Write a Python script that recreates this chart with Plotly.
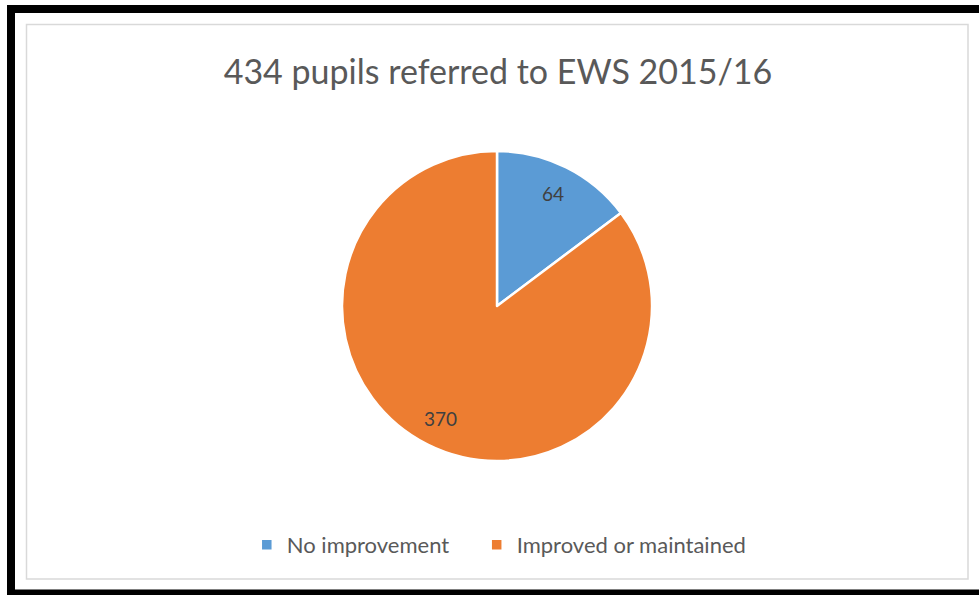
import numpy as np
import plotly.graph_objects as go

title = "434 pupils referred to EWS 2015/16"
categories = ["No improvement", "Improved or maintained"]
values = [64, 370]
colors = ["#5B9BD5", "#ED7D31"]

W, H = 979, 595
cx, cy, r = 497, 306, 155

# pad legend names with no-break spaces to widen the gap between entries
legend_names = [c + "\u00a0" * 4 if i < len(categories) - 1 else c
                for i, c in enumerate(categories)]

fig = go.Figure()
fig.add_trace(go.Pie(
    labels=legend_names,
    values=values,
    sort=False,
    direction="clockwise",
    rotation=0,
    marker=dict(colors=colors, line=dict(color="white", width=2.5)),
    textinfo="none",
    hoverinfo="label+value",
    domain=dict(x=[(cx - r) / W, (cx + r) / W], y=[(H - cy - r) / H, (H - cy + r) / H]),
))

# value labels at ~0.8 radius along each slice's mid-angle
total = sum(values)
start = 0.0
for v in values:
    mid = (start + v / 2) / total * 2 * np.pi
    start += v
    x = cx + 0.81 * r * np.sin(mid)
    y = cy - 0.81 * r * np.cos(mid)
    fig.add_annotation(x=x / W, y=1 - y / H, xref="paper", yref="paper",
                       xanchor="center", yanchor="middle",
                       text=str(v), showarrow=False,
                       font=dict(size=19, color="#404040"))

fig.update_layout(
    width=W, height=H,
    margin=dict(l=0, r=0, t=0, b=0),
    paper_bgcolor="white",
    font=dict(family="Lato, 'Open Sans', sans-serif", color="#595959"),
    title=dict(text=title, x=498 / W, xanchor="center", y=1 - 72 / H, yanchor="middle",
               font=dict(size=34, color="#595959")),
    legend=dict(orientation="h", x=0.51, xanchor="center", y=1 - 545 / H, yanchor="middle",
                font=dict(size=22, color="#595959"), itemwidth=30),
    shapes=[
        # outer black frame
        dict(type="rect", xref="paper", yref="paper",
             x0=11 / W, x1=1.02, y0=1 - 593.5 / H, y1=1 - 9 / H,
             line=dict(color="black", width=8)),
        # inner grey chart-area border
        dict(type="rect", xref="paper", yref="paper",
             x0=26.5 / W, x1=968 / W, y0=1 - 579 / H, y1=1 - 24.5 / H,
             line=dict(color="#D9D9D9", width=1.5)),
    ],
)

fig.write_html("out.html", config={"displayModeBar": False},
               post_script="document.body.style.margin='0';")
